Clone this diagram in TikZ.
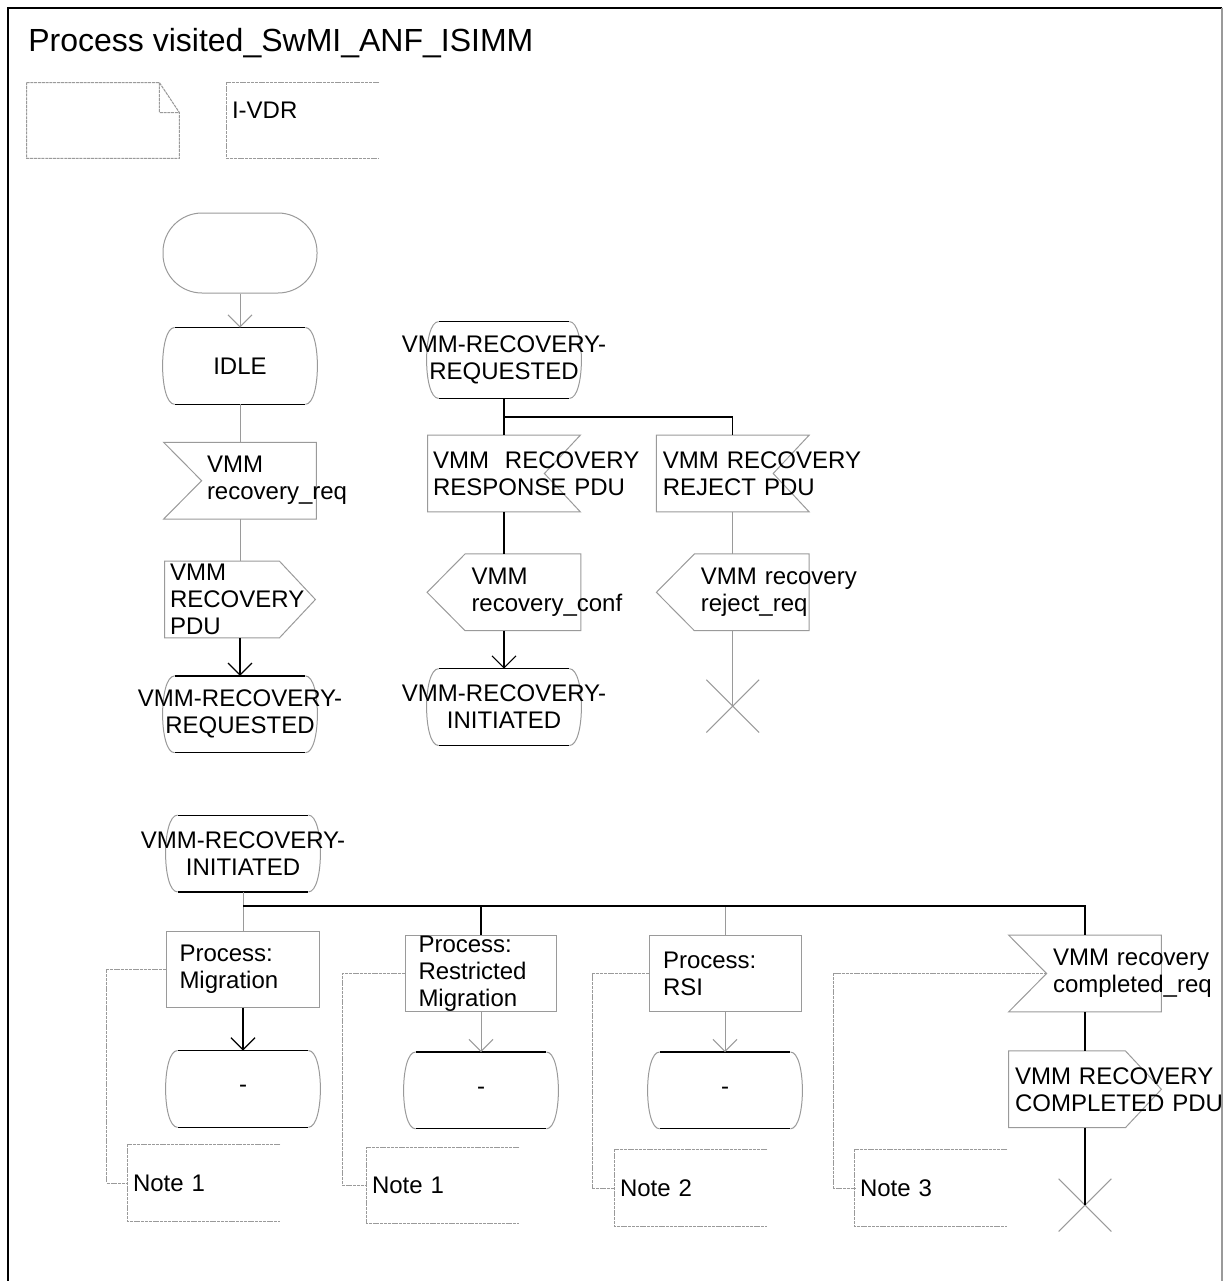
\documentclass[tikz,border=0pt]{standalone}
\usepackage{fontspec}
\setmainfont{Liberation Sans}
\usepackage{tikz}
\usetikzlibrary{arrows.meta,positioning}
\definecolor{SdlGrey}{HTML}{9A9A9A}
\newcommand{\sdlfont}{\fontsize{12}{13.5}\selectfont}
\newcommand{\spill}[1]{\makebox[0pt]{#1}}

\tikzset{
  sdlline/.style={draw=SdlGrey,line width=0.5pt},
  sdlblack/.style={draw=black,line width=0.6pt},
  sdlflow/.style={draw=SdlGrey,line width=0.5pt},
  sdlflowdark/.style={draw=black,line width=0.6pt},
  sdlcomment/.style={draw=SdlGrey,line width=0.5pt,dash pattern=on 1.5pt off 0.4pt},
  sdlbase/.style={inner ysep=0pt,minimum height=38pt,font=\sdlfont,
    execute at begin node={\hyphenpenalty=10000\exhyphenpenalty=10000}},
  sdlstart/.style={draw=SdlGrey,line width=0.5pt,rounded corners=19.5pt,
    minimum width=77pt,minimum height=40pt},
  sdlstate/.style={sdlbase,minimum width=77pt,inner xsep=0pt,align=center,
    append after command={\pgfextra{
      \draw[sdlblack] ([xshift=6pt]\tikzlastnode.north west) -- ([xshift=-6pt]\tikzlastnode.north east)
        ([xshift=6pt]\tikzlastnode.south west) -- ([xshift=-6pt]\tikzlastnode.south east);
      \draw[sdlline] ([xshift=-6pt]\tikzlastnode.north east)
        .. controls ([xshift=2pt]\tikzlastnode.north east) and ([xshift=2pt]\tikzlastnode.south east)
        .. ([xshift=-6pt]\tikzlastnode.south east)
        ([xshift=6pt]\tikzlastnode.north west)
        .. controls ([xshift=-2pt]\tikzlastnode.north west) and ([xshift=-2pt]\tikzlastnode.south west)
        .. ([xshift=6pt]\tikzlastnode.south west);}}},
  % input, notch on the left
  sdlinput/.style={sdlbase,align=left,
    append after command={\pgfextra{
      \draw[sdlline] (\tikzlastnode.north west) -- (\tikzlastnode.north east)
        -- (\tikzlastnode.south east) -- (\tikzlastnode.south west)
        -- ([xshift=19pt]\tikzlastnode.west) -- cycle;}}},
  % input, notch on the right
  sdlinputr/.style={sdlbase,align=left,
    append after command={\pgfextra{
      \draw[sdlline] (\tikzlastnode.north west) -- (\tikzlastnode.north east)
        -- ([xshift=-18pt]\tikzlastnode.east) -- (\tikzlastnode.south east)
        -- (\tikzlastnode.south west) -- cycle;}}},
  % output, pointing right
  sdloutput/.style={sdlbase,align=left,
    append after command={\pgfextra{
      \draw[sdlline] (\tikzlastnode.north west) -- ([xshift=-18pt]\tikzlastnode.north east)
        -- (\tikzlastnode.east) -- ([xshift=-18pt]\tikzlastnode.south east)
        -- (\tikzlastnode.south west) -- cycle;}}},
  % output, pointing left
  sdloutputl/.style={sdlbase,align=left,
    append after command={\pgfextra{
      \draw[sdlline] ([xshift=19pt]\tikzlastnode.north west) -- (\tikzlastnode.north east)
        -- (\tikzlastnode.south east) -- ([xshift=19pt]\tikzlastnode.south west)
        -- (\tikzlastnode.west) -- cycle;}}},
  sdltask/.style={sdlbase,align=left,draw=SdlGrey,line width=0.5pt},
  sdlnote/.style={sdlbase,align=left,inner xsep=2.5pt,text width=71pt,
    append after command={\pgfextra{
      \draw[sdlcomment] (\tikzlastnode.north east) -- (\tikzlastnode.north west)
        -- (\tikzlastnode.south west) -- (\tikzlastnode.south east);}}},
  sdltext/.style={minimum width=76pt,minimum height=37.5pt,inner sep=0pt,
    append after command={\pgfextra{
      \draw[sdlcomment] (\tikzlastnode.north west) -- ([xshift=-10pt]\tikzlastnode.north east)
        -- ([yshift=-15pt]\tikzlastnode.north east) -- (\tikzlastnode.south east)
        -- (\tikzlastnode.south west) -- cycle
        ([xshift=-10pt]\tikzlastnode.north east) |- ([yshift=-15pt]\tikzlastnode.north east);}}},
  sdlstop/.style={minimum size=26pt,inner sep=0pt,
    append after command={\pgfextra{
      \draw[sdlline] (\tikzlastnode.north west) -- (\tikzlastnode.south east)
        (\tikzlastnode.north east) -- (\tikzlastnode.south west);}}}
}

\begin{document}
\begin{tikzpicture}[x=0.5pt,y=-0.5pt,>={Straight Barb[length=6pt,width=12pt]}]
  \useasboundingbox (0,0) rectangle (1224,1281);
  \draw[line width=1pt] (7.5,1281) -- (7.5,7.5) -- (1222,7.5);
  \draw[SdlGrey,line width=1pt] (1222,7.5) -- (1222,1281);
  \node[anchor=base west,inner sep=0pt,font=\fontsize{16}{19}\selectfont] (title) at (28,51)
    {Process visited\_SwMI\_ANF\_ISIMM};

  % header symbols
  \node[sdltext] (txt) at (103,120.5) {};
  \node[sdlnote,text height=17.75pt,text depth=19.7pt,minimum height=0pt] (ivdr) at (303,120.5) {I-VDR};

  % start transition
  \node[sdlstart] (start) at (240,253) {};
  \node[sdlstate,below=17pt of start] (idle) {IDLE};
  \node[sdlinput,below=19pt of idle,inner xsep=21.5pt,text width=33pt] (req) {VMM\\recovery\_req};
  \node[sdloutput,below=21pt of req,inner xsep=2.5pt,text width=70pt] (pduout) {VMM\\RECOVERY\\PDU};
  \node[sdlstate,below=19pt of pduout] (reqstate) {\spill{VMM-RECOVERY-}\\\spill{REQUESTED}};
  \draw[sdlflow,->] (start) -- (idle);
  \draw[sdlflow] (idle) -- (req);
  \draw[sdlflow] (req) -- (pduout);
  \draw[sdlflowdark,->] (pduout) -- (reqstate);

  % state VMM-RECOVERY-REQUESTED
  \node[sdlstate] (reqstate2) at (504,360) {\spill{VMM-RECOVERY-}\\\spill{REQUESTED}};
  \coordinate (fork1) at (504,417);
  \node[sdlinputr,inner xsep=2.5pt,text width=71pt] (resp) at (504,473.5) {VMM~~RECOVERY\\RESPONSE~PDU};
  \node[sdlinputr,right=38pt of resp,inner xsep=3pt,text width=70pt] (rej) {VMM~RECOVERY\\REJECT~PDU};
  \node[sdloutputl,below=21pt of resp,inner xsep=22pt,text width=32.5pt] (conf) {VMM\\recovery\_conf};
  \node[sdloutputl,below=21pt of rej,inner xsep=22pt,text width=32pt] (rejreq) {VMM~recovery\\reject\_req};
  \node[sdlstate,below=19pt of conf] (initstate) {\spill{VMM-RECOVERY-}\\\spill{INITIATED}};
  \node[sdlstop,below=24.5pt of rejreq] (rejstop) {};
  \draw[sdlflowdark] (reqstate2) -- (fork1) -| (rej);
  \draw[sdlflowdark] (fork1) -- (resp);
  \draw[sdlflowdark] (resp) -- (conf);
  \draw[sdlflow] (rej) -- (rejreq);
  \draw[sdlflowdark,->] (conf) -- (initstate);
  \draw[sdlflow] (rejreq) -- (rejstop.center);

  % state VMM-RECOVERY-INITIATED
  \node[sdlstate] (initstate2) at (243,853.5) {\spill{VMM-RECOVERY-}\\\spill{INITIATED}};
  \coordinate (fork2) at (243,906);
  \node[sdltask,inner xsep=6.5pt,text width=63.5pt] (migr) at (243,969) {Process:\\Migration};
  \node[sdlstate,below=21.5pt of migr] (migrstate) {-};
  \node[sdltask,inner xsep=6.5pt,text width=62.5pt] (restr) at (481,973.5) {Process:\\Restricted\\Migration};
  \node[sdlstate,below=20pt of restr] (restrstate) {-};
  \node[sdltask,inner xsep=7pt,text width=62pt] (rsi) at (725,973.5) {Process:\\RSI};
  \node[sdlstate,below=20pt of rsi] (rsistate) {-};
  \node[sdlinput,inner xsep=22pt,text width=32pt] (compreq) at (1085,973.5) {VMM~recovery\\completed\_req};
  \node[sdloutput,below=19.5pt of compreq,inner xsep=3pt,text width=70pt] (comppdu) {VMM~RECOVERY\\COMPLETED~PDU};
  \node[sdlstop,below=25.5pt of comppdu] (compstop) {};
  \node[sdlnote] (note1) at (204,1183) {Note~1};
  \node[sdlnote] (note2) at (443,1185.5) {Note~1};
  \node[sdlnote] (note3) at (691,1188) {Note~2};
  \node[sdlnote] (note4) at (931,1188) {Note~3};
  \draw[sdlflow] (initstate2) -- (fork2);
  \draw[sdlflow] (fork2) -- (migr);
  \draw[sdlflow] (fork2) -| (rsi);
  \draw[sdlflowdark] (fork2) -| (restr);
  \draw[sdlflowdark] (fork2) -| (compreq);
  \draw[sdlflowdark,->] (migr) -- (migrstate);
  \draw[sdlflow,->] (restr) -- (restrstate);
  \draw[sdlflow,->] (rsi) -- (rsistate);
  \draw[sdlflowdark] (compreq) -- (comppdu);
  \draw[sdlflowdark] (comppdu) -- (compstop.center);
  \draw[sdlcomment] (migr.west) -| ([xshift=-10.5pt]note1.west) -- (note1.west);
  \draw[sdlcomment] (restr.west) -| ([xshift=-12pt]note2.west) -- (note2.west);
  \draw[sdlcomment] (rsi.west) -| ([xshift=-11pt]note3.west) -- (note3.west);
  \draw[sdlcomment] ([xshift=19pt]compreq.west) -| ([xshift=-10.5pt]note4.west) -- (note4.west);
\end{tikzpicture}
\end{document}
